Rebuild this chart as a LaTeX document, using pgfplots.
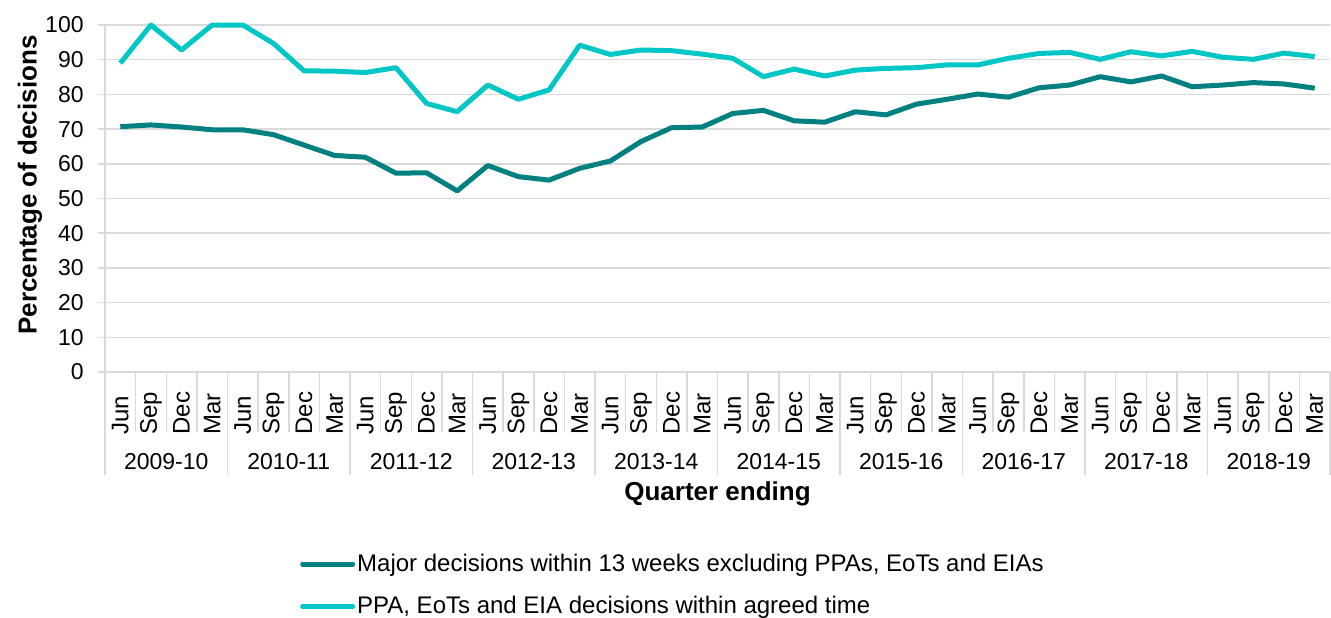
\documentclass[border=0pt]{standalone}
\usepackage{fontspec}
\setmainfont{Liberation Sans}
\usepackage{pgfplots}
\pgfplotsset{compat=1.18}
\definecolor{darkteal}{RGB}{0,128,128}
\definecolor{lightteal}{RGB}{0,198,198}
\definecolor{gridgray}{RGB}{217,217,217}

\begin{document}
\begin{tikzpicture}
\useasboundingbox (0,0) rectangle (665.5pt,308.5pt);
\begin{axis}[
  at={(52.5pt,122.5pt)}, anchor=south west,
  scale only axis, width=612.5pt, height=173.5pt,
  xmin=-0.5, xmax=39.5, ymin=0, ymax=100,
  clip=false,
  /pgf/number format/assume math mode=true,
  axis x line*=bottom, axis y line*=left,
  axis line style={-, draw=gridgray, line width=0.75pt},
  ytick={0,10,...,100},
  ymajorgrids, grid style={gridgray, line width=0.75pt},
  tick align=outside, major tick length=3.5pt,
  ytick style={draw=gridgray, line width=0.75pt},
  xtick={0,...,39},
  xtick style={draw=none},
  xticklabels={Jun,Sep,Dec,Mar,Jun,Sep,Dec,Mar,Jun,Sep,Dec,Mar,Jun,Sep,Dec,Mar,Jun,Sep,Dec,Mar,
               Jun,Sep,Dec,Mar,Jun,Sep,Dec,Mar,Jun,Sep,Dec,Mar,Jun,Sep,Dec,Mar,Jun,Sep,Dec,Mar},
  tick label style={font=\fontsize{11.5}{12}\selectfont},
  xticklabel style={yshift=-28pt, rotate=90, anchor=west, inner sep=0pt, font=\fontsize{12}{12}\selectfont},
  yticklabel style={inner sep=0pt, xshift=-7pt},
  xlabel={Quarter ending},
  xlabel style={at={(axis description cs:0.5,-0.352)}, anchor=center, font=\fontsize{13}{14}\bfseries},
  ylabel={Percentage of decisions},
  ylabel style={at={(axis description cs:-0.0612,0.539)}, anchor=center, font=\fontsize{13}{14}\bfseries},
  legend style={at={(axis description cs:0.159,-0.517)}, anchor=north west, draw=none,
    font=\fontsize{12}{13}\selectfont, row sep=9pt, inner sep=0pt,
    nodes={inner sep=1pt}},
  legend cell align=left,
  legend image code/.code={\draw[#1, line cap=round] (0pt,0pt) -- (25pt,0pt);},
]
\addplot[darkteal, line width=2.5pt, line join=round] coordinates {
(0,70.7) (1,71.2) (2,70.6) (3,69.8)
(4,69.8) (5,68.4) (6,65.4) (7,62.4)
(8,61.9) (9,57.3) (10,57.4) (11,52.2)
(12,59.5) (13,56.3) (14,55.3) (15,58.7)
(16,60.8) (17,66.4) (18,70.4) (19,70.6)
(20,74.5) (21,75.4) (22,72.4) (23,72.0)
(24,75.0) (25,74.1) (26,77.2) (27,78.6)
(28,80.1) (29,79.2) (30,81.9) (31,82.7)
(32,85.1) (33,83.6) (34,85.3) (35,82.2)
(36,82.7) (37,83.4) (38,83.0) (39,81.8)
};
\addlegendentry{Major decisions within 13 weeks excluding PPAs, EoTs and EIAs}
\addplot[lightteal, line width=2.5pt, line join=round] coordinates {
(0,89.0) (1,100) (2,92.8) (3,100)
(4,100) (5,94.7) (6,86.8) (7,86.7)
(8,86.3) (9,87.7) (10,77.4) (11,75.0)
(12,82.7) (13,78.6) (14,81.3) (15,94.2)
(16,91.5) (17,92.8) (18,92.6) (19,91.6)
(20,90.4) (21,85.1) (22,87.3) (23,85.3)
(24,87.0) (25,87.5) (26,87.7) (27,88.5)
(28,88.5) (29,90.4) (30,91.8) (31,92.1)
(32,90.1) (33,92.3) (34,91.1) (35,92.4)
(36,90.7) (37,90.1) (38,91.9) (39,90.9)
};
\addlegendentry{PPA, EoTs and EIA decisions within agreed time}
% category separators
\pgfplotsinvokeforeach{-0.5,0.5,...,39.5}{
  \draw[gridgray, line width=0.75pt] (axis cs:#1,0) -- ++(0pt,-30pt);
}
\pgfplotsinvokeforeach{-0.5,3.5,...,39.5}{
  \draw[gridgray, line width=0.75pt] (axis cs:#1,0) -- ++(0pt,-51.5pt);
}
\node[font=\fontsize{11.5}{12}\selectfont] at (axis cs:1.5,0) [yshift=-45pt] {2009-10};
\node[font=\fontsize{11.5}{12}\selectfont] at (axis cs:5.5,0) [yshift=-45pt] {2010-11};
\node[font=\fontsize{11.5}{12}\selectfont] at (axis cs:9.5,0) [yshift=-45pt] {2011-12};
\node[font=\fontsize{11.5}{12}\selectfont] at (axis cs:13.5,0) [yshift=-45pt] {2012-13};
\node[font=\fontsize{11.5}{12}\selectfont] at (axis cs:17.5,0) [yshift=-45pt] {2013-14};
\node[font=\fontsize{11.5}{12}\selectfont] at (axis cs:21.5,0) [yshift=-45pt] {2014-15};
\node[font=\fontsize{11.5}{12}\selectfont] at (axis cs:25.5,0) [yshift=-45pt] {2015-16};
\node[font=\fontsize{11.5}{12}\selectfont] at (axis cs:29.5,0) [yshift=-45pt] {2016-17};
\node[font=\fontsize{11.5}{12}\selectfont] at (axis cs:33.5,0) [yshift=-45pt] {2017-18};
\node[font=\fontsize{11.5}{12}\selectfont] at (axis cs:37.5,0) [yshift=-45pt] {2018-19};
\end{axis}
\end{tikzpicture}
\end{document}
